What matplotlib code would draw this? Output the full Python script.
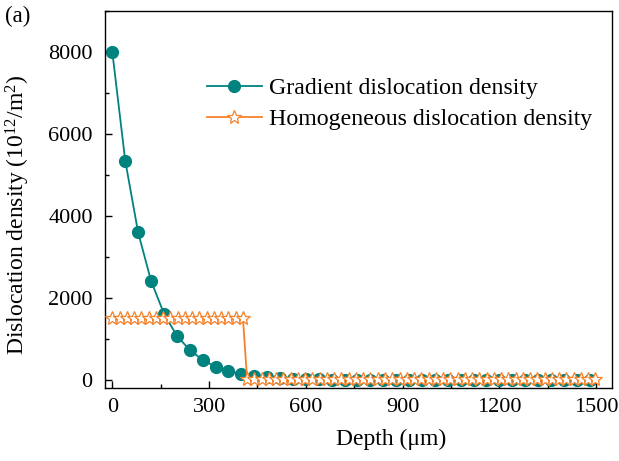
import matplotlib
matplotlib.use('Agg')
import matplotlib.pyplot as plt
from matplotlib.ticker import MultipleLocator

plt.rcParams['font.family'] = ['Liberation Serif', 'DejaVu Serif']
plt.rcParams['mathtext.fontset'] = 'custom'
plt.rcParams['mathtext.rm'] = 'Liberation Serif'
plt.rcParams['mathtext.it'] = 'Liberation Serif:italic'

# gradient dislocation density (depth in um, density in 1e12/m^2)
grad_depth = [0, 40, 80, 120, 160, 200, 240, 280, 320, 360, 400,
              440, 480, 520, 560, 600, 640, 680, 720, 760, 800,
              840, 880, 920, 960, 1000, 1040, 1080, 1120, 1160, 1200,
              1240, 1280, 1320, 1360, 1400, 1440, 1480]
grad_rho = [8000, 5350, 3600, 2420, 1620, 1080, 730, 490, 320, 215, 150,
            95, 65, 45, 30, 20, 15, 10, 5, 5, 5,
            5, 5, 5, 5, 5, 5, 5, 5, 5, 5,
            5, 5, 5, 5, 5, 5, 5]

# homogeneous dislocation density
homo_depth = [0, 22.5, 45, 67.5, 90, 112.5, 135, 157.5, 180, 202.5, 225,
              247.5, 270, 292.5, 315, 337.5, 360, 382.5, 405,
              418, 440.5, 463, 485.5, 508, 530.5, 553, 575.5, 598, 620.5,
              643, 665.5, 688, 710.5, 733, 755.5, 778, 800.5, 823, 845.5,
              868, 890.5, 913, 935.5, 958, 980.5, 1003, 1025.5, 1048, 1070.5,
              1093, 1115.5, 1138, 1160.5, 1183, 1205.5, 1228, 1250.5, 1273, 1295.5,
              1318, 1340.5, 1363, 1385.5, 1408, 1430.5, 1453, 1475.5, 1498]
homo_rho = [1500] * 19 + [20] * 49

teal = '#00827F'
orange = '#F5822A'

fig = plt.figure(figsize=(6.19, 4.61), dpi=100)
ax = fig.add_axes([0.170, 0.158, 0.819, 0.818])

ax.plot(grad_depth, grad_rho, '-o', color=teal, lw=1.3, ms=8.5,
        label='Gradient dislocation density', zorder=2)
ax.plot(homo_depth, homo_rho, '-*', color=orange, lw=1.3, ms=10,
        markerfacecolor='white', markeredgewidth=0.9,
        label='Homogeneous dislocation density', zorder=3)

ax.set_xlim(-22, 1550)
ax.set_ylim(-200, 9000)
ax.xaxis.set_major_locator(MultipleLocator(300))
ax.xaxis.set_minor_locator(MultipleLocator(150))
ax.yaxis.set_major_locator(MultipleLocator(2000))
ax.yaxis.set_minor_locator(MultipleLocator(1000))
ax.tick_params(which='both', direction='in', labelsize=16, width=1)
ax.tick_params(which='major', length=5)
ax.tick_params(which='minor', length=3)
ax.tick_params(axis='y', pad=9)
ax.tick_params(axis='x', pad=7)
for sp in ax.spines.values():
    sp.set_linewidth(1)

ax.set_xlabel('Depth (μm)', fontsize=17)
ax.xaxis.set_label_coords(0.564, -0.108)
ax.set_ylabel('Dislocation density (10$^{12}$/m$^2$)', fontsize=17)
ax.yaxis.set_label_coords(-0.144, 0.459)

ax.legend(loc='upper left', bbox_to_anchor=(0.334, 0.832),
          bbox_transform=fig.transFigure, frameon=False,
          fontsize=17.2, handlelength=2.3, handletextpad=0.3,
          labelspacing=0.38, borderpad=0, borderaxespad=0)

fig.text(0.008, 0.952, '(a)', fontsize=16.5)

fig.savefig('out.png', dpi=100)
